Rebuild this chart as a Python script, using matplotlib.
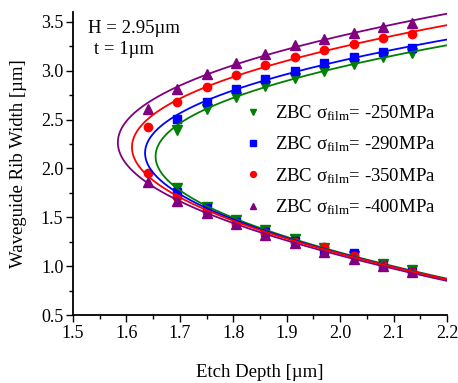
import numpy as np
import matplotlib
matplotlib.use("Agg")
import matplotlib.pyplot as plt
from matplotlib.ticker import MultipleLocator

plt.rcParams['font.family'] = ['Liberation Serif', 'DejaVu Serif']
plt.rcParams['mathtext.fontset'] = 'custom'
plt.rcParams['mathtext.rm'] = 'Liberation Serif'
plt.rcParams['mathtext.it'] = 'Liberation Serif:italic'

# Etch depth positions of the markers
x_short = [1.695, 1.75, 1.805, 1.86, 1.915, 1.97, 2.025, 2.08, 2.135]
x_long = [1.64] + x_short

# Rib width, upper and lower branches
green_upper = [2.394, 2.605, 2.735, 2.844, 2.929, 3.0, 3.07, 3.137, 3.18]
green_lower = [1.80, 1.61, 1.472, 1.37, 1.275, 1.19, 1.10, 1.018, 0.96]
blue_upper = [2.503, 2.68, 2.81, 2.916, 3.0, 3.076, 3.137, 3.19, 3.236]
blue_lower = [1.76, 1.59, 1.455, 1.345, 1.26, 1.17, 1.13, 1.01, 0.945]
red_upper = [2.424, 2.677, 2.83, 2.953, 3.059, 3.14, 3.212, 3.277, 3.332, 3.376]
red_lower = [1.95, 1.705, 1.557, 1.44, 1.335, 1.25, 1.20, 1.10, 1.01, 0.945]
purple_upper = [2.608, 2.813, 2.967, 3.076, 3.171, 3.26, 3.325, 3.39, 3.448, 3.492]
purple_lower = [1.864, 1.67, 1.54, 1.43, 1.32, 1.234, 1.148, 1.073, 1.004, 0.937]

labels = ['-250MPa', '-290MPa', '-350MPa', '-400MPa']

series = [
    (x_short, green_upper, green_lower, '#008000', 'v', labels[0]),
    (x_short, blue_upper, blue_lower, '#0000FF', 's', labels[1]),
    (x_long, red_upper, red_lower, '#FF0000', 'o', labels[2]),
    (x_long, purple_upper, purple_lower, '#800080', '^', labels[3]),
]

fig = plt.figure(figsize=(4.58, 3.83), dpi=100)
ax = fig.add_axes([0.1594, 0.1775, 0.8166, 0.791])

msz = {'v': 6.5, 's': 5.5, 'o': 6.0, '^': 6.5}
for xs, up, lo, c, m, lab in series:
    xx = np.array(xs + xs)
    yy = np.array(up + lo)
    ax.plot(xx, yy, linestyle='none', marker=m, color=c, markersize=msz[m],
            label='ZBC σ$_{\\mathrm{film}}$= ' + lab, zorder=2)

order = [0, 1, 3, 2]
for i in order:
    xs, up, lo, c, m, lab = series[i]
    xx = np.array(xs + xs)
    yy = np.array(up + lo)
    coef = np.polyfit(yy, xx, 3)
    yg = np.linspace(0.6, 3.8, 600)
    ax.plot(np.polyval(coef, yg), yg, color=c, lw=1.3, zorder=3)

ax.set_xlim(1.5, 2.2)
ax.set_ylim(0.5, 3.6)
ax.xaxis.set_major_locator(MultipleLocator(0.1))
ax.xaxis.set_minor_locator(MultipleLocator(0.05))
ax.yaxis.set_major_locator(MultipleLocator(0.5))
ax.yaxis.set_minor_locator(MultipleLocator(0.25))
ax.xaxis.set_major_formatter(plt.FuncFormatter(lambda v, p: f'{v:.1f}'))
ax.yaxis.set_major_formatter(plt.FuncFormatter(lambda v, p: f'{v:.1f}'))

for s in ['top', 'right']:
    ax.spines[s].set_visible(False)
for s in ['left', 'bottom']:
    ax.spines[s].set_linewidth(1.3)
ax.tick_params(which='major', direction='out', length=5, width=1.0, labelsize=13, pad=2)
ax.tick_params(which='minor', direction='out', length=3, width=1.0)

ax.set_xlabel('Etch Depth [µm]', fontsize=13.5, labelpad=16)
ax.set_ylabel('Waveguide Rib Width [µm]', fontsize=13.5, labelpad=10)

ax.text(0.04, 0.945, 'H = 2.95µm', transform=ax.transAxes, fontsize=13.5,
        ha='left', va='center')
ax.text(0.055, 0.878, 't = 1µm', transform=ax.transAxes, fontsize=13.5,
        ha='left', va='center')

leg = ax.legend(loc='upper left', bbox_to_anchor=(0.43, 0.73), frameon=False,
                fontsize=13.5, handlelength=1.0, handletextpad=0.7,
                labelspacing=0.62, borderpad=0, markerscale=0.7)

fig.savefig('out.png', dpi=100)
